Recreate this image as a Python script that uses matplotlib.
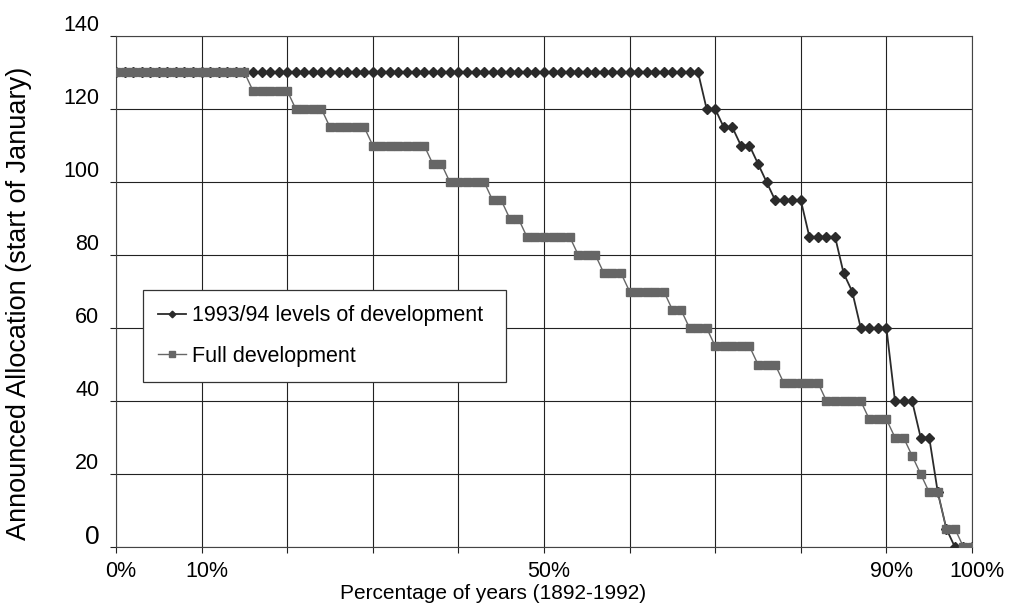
import numpy as np
import matplotlib
matplotlib.use('Agg')
from matplotlib import pyplot as plt
from matplotlib import transforms

plt.rcParams['font.family'] = ['Liberation Sans', 'DejaVu Sans']

# Announced allocation, years ranked from highest to lowest (1892-1992)
current_dev = [130, 130, 130, 130, 130, 130, 130, 130, 130, 130,
               130, 130, 130, 130, 130, 130, 130, 130, 130, 130,
               130, 130, 130, 130, 130, 130, 130, 130, 130, 130,
               130, 130, 130, 130, 130, 130, 130, 130, 130, 130,
               130, 130, 130, 130, 130, 130, 130, 130, 130, 130,
               130, 130, 130, 130, 130, 130, 130, 130, 130, 130,
               130, 130, 130, 130, 130, 130, 130, 130, 130, 120,
               120, 115, 115, 110, 110, 105, 100, 95, 95, 95,
               95, 85, 85, 85, 85, 75, 70, 60, 60, 60,
               60, 40, 40, 40, 30, 30, 15, 5, 0, 0,
               0]
full_dev = [130, 130, 130, 130, 130, 130, 130, 130, 130, 130,
            130, 130, 130, 130, 130, 130, 125, 125, 125, 125,
            125, 120, 120, 120, 120, 115, 115, 115, 115, 115,
            110, 110, 110, 110, 110, 110, 110, 105, 105, 100,
            100, 100, 100, 100, 95, 95, 90, 90, 85, 85,
            85, 85, 85, 85, 80, 80, 80, 75, 75, 75,
            70, 70, 70, 70, 70, 65, 65, 60, 60, 60,
            55, 55, 55, 55, 55, 50, 50, 50, 45, 45,
            45, 45, 45, 40, 40, 40, 40, 40, 35, 35,
            35, 30, 30, 25, 20, 15, 15, 5, 5, 0,
            0]

x_ticks = [0, 10, 20, 30, 40, 50, 60, 70, 80, 90, 100]
x_labels = ['0%', '10%', '', '', '', '50%', '', '', '', '90%', '100%']
y_ticks = [0, 20, 40, 60, 80, 100, 120, 140]

n = len(full_dev)
pct = np.arange(n) * 100.0 / (n - 1)

fig = plt.figure(figsize=(10.14, 6.07), dpi=100)
ax = fig.add_axes([0.1144, 0.0988, 0.8442, 0.8419])

ax.plot(pct, current_dev, color='#2b2b2b', linewidth=1.3, marker='D',
        markersize=4.8, label='1993/94 levels of development', zorder=3)
ax.plot(pct, full_dev, color='#666666', linewidth=1.0, marker='s',
        markersize=6.3, label='Full development', zorder=4)

ax.set_xlim(0, 100)
ax.set_ylim(0, 140)
ax.set_xticks(x_ticks)
ax.set_xticklabels(x_labels)
ax.set_yticks(y_ticks)
ax.grid(True, color='#222222', linewidth=0.8)
ax.set_axisbelow(True)
for s in ax.spines.values():
    s.set_color('#444444')
    s.set_linewidth(0.8)

ax.tick_params(axis='both', direction='out', length=4, width=0.8,
               color='#222222', labelsize=15.5)
ax.tick_params(axis='y', pad=8)
ax.tick_params(axis='x', pad=6)

# y labels sit a little above their grid lines, x labels a bit to the right
shift_y = transforms.ScaledTranslation(0, 0.13, fig.dpi_scale_trans)
for lab in ax.get_yticklabels():
    lab.set_transform(lab.get_transform() + shift_y)
ax.get_yticklabels()[0].set_fontsize(19)
shift_x = transforms.ScaledTranslation(0.05, 0, fig.dpi_scale_trans)
for lab in ax.get_xticklabels():
    lab.set_transform(lab.get_transform() + shift_x)

ax.set_xlabel('Percentage of years (1892-1992)', fontsize=15)
ax.xaxis.set_label_coords(0.441, -0.073)
ax.set_ylabel('Announced Allocation (start of January)', fontsize=19.5)
ax.yaxis.set_label_coords(-0.098, 0.476)

leg = ax.legend(loc='upper left', bbox_to_anchor=(0.0315, 0.2, 0.424, 0.303),
                mode='expand', fontsize=15.5, frameon=True, fancybox=False,
                framealpha=1, edgecolor='#333333', handlelength=1.3,
                handletextpad=0.25, labelspacing=0.9, borderpad=0.72,
                markerscale=0.7, borderaxespad=0)
leg.get_frame().set_linewidth(0.9)

fig.savefig('out.png', dpi=100)
